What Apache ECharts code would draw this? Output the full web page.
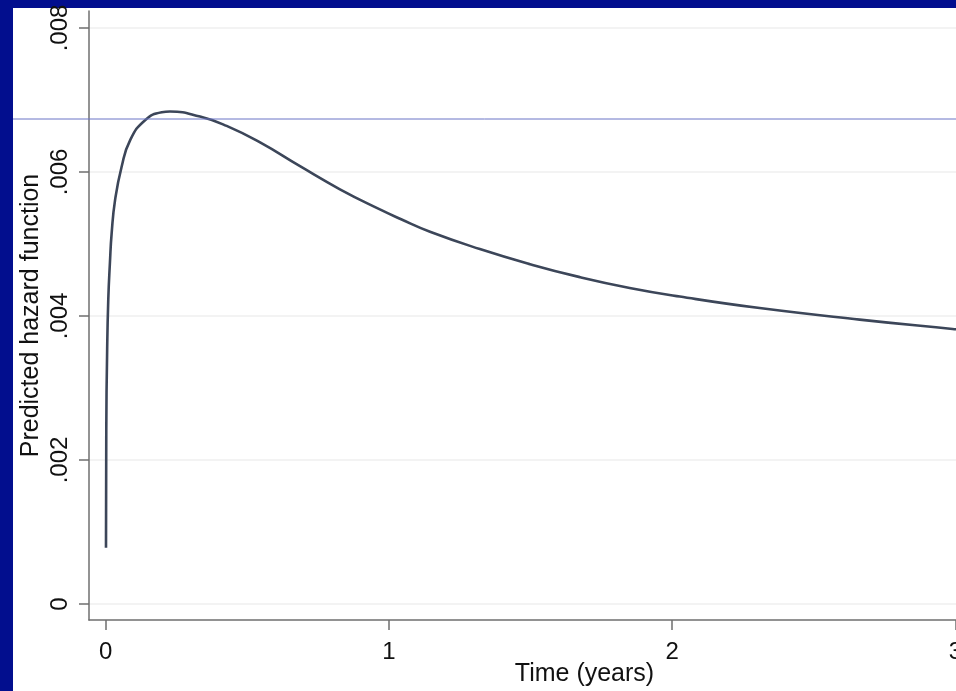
<!DOCTYPE html>
<html>
<head>
<meta charset="utf-8">
<script src="https://cdn.jsdelivr.net/npm/echarts@6/dist/echarts.min.js"></script>
<style>
html,body{margin:0;padding:0;background:#020e8e;}
#chart{width:956px;height:691px;}
</style>
</head>
<body>
<div id="chart"></div>
<script>
// Time (years)
const times = [0.001, 0.002, 0.005, 0.009, 0.015, 0.021, 0.033, 0.056, 0.086, 0.139, 0.198, 0.227, 0.333, 0.427, 0.545, 0.686, 0.827, 0.968, 1.039, 1.145, 1.321, 1.498, 1.674, 1.85, 2.027, 2.309, 2.662, 2.99, 3.02];
// Predicted hazard function
const hazard = [0.00078, 0.0024, 0.0035, 0.00422, 0.00475, 0.00515, 0.00561, 0.00607, 0.00644, 0.00672, 0.00683, 0.00684, 0.00677, 0.00664, 0.00641, 0.00608, 0.00576, 0.00548, 0.00535, 0.00517, 0.00493, 0.00472, 0.00454, 0.00439, 0.00427, 0.00411, 0.00395, 0.00382, 0.00381];
const xTicks = [0, 1, 2, 3];
const yTicks = [0, 0.002, 0.004, 0.006, 0.008];
const yTickLabels = ['0', '.002', '.004', '.006', '.008'];
const refLineValue = 0.006736;

const xName = 'Time (years)';
const yName = 'Predicted hazard function';

const FONT = '"Liberation Sans", Arial, Helvetica, sans-serif';
const axisColor = '#6f6f6f';
const yMin = -0.000222, yMax = 0.008236;

const chart = echarts.init(document.getElementById('chart'), null, {renderer: 'canvas'});
const option = {
  backgroundColor: '#020e8e',
  animation: false,
  graphic: [{
    type: 'rect', left: 13, top: 8, z: -10,
    shape: {width: 943, height: 683},
    style: {fill: '#ffffff'}
  }],
  grid: [
    {left: 89, top: 11, bottom: 71, right: -124, containLabel: false, outerBoundsMode: 'none'},
    {left: 13, top: 11, bottom: 71, right: 0, containLabel: false, outerBoundsMode: 'none'}
  ],
  xAxis: [{
    type: 'value', gridIndex: 0, min: -0.059, max: 3.44,
    name: xName, nameLocation: 'middle', nameGap: 42, nameMoveOverlap: false,
    nameTextStyle: {fontFamily: FONT, fontSize: 25, color: '#111'},
    axisLine: {show: true, onZero: false, lineStyle: {color: axisColor, width: 1.5}},
    axisTick: {show: true, length: 10, customValues: xTicks, lineStyle: {color: axisColor, width: 1.5}},
    axisLabel: {customValues: xTicks, margin: 20, fontFamily: FONT, fontSize: 24, color: '#111',
      formatter: v => String(v)},
    splitLine: {show: false}
  }, {
    type: 'value', gridIndex: 1, min: 0, max: 1, show: false
  }],
  yAxis: [{
    type: 'value', gridIndex: 0, min: yMin, max: yMax,
    name: yName, nameLocation: 'middle', nameGap: 45, nameRotate: 90, nameMoveOverlap: false,
    nameTextStyle: {fontFamily: FONT, fontSize: 25, color: '#111'},
    axisLine: {show: true, onZero: false, lineStyle: {color: axisColor, width: 1.5}},
    axisTick: {show: true, length: 10, customValues: yTicks, lineStyle: {color: axisColor, width: 1.5}},
    axisLabel: {customValues: yTicks, rotate: 90, margin: 17, fontFamily: FONT, fontSize: 24, color: '#111',
      formatter: v => { const i = yTicks.findIndex(t => Math.abs(t - v) < 1e-9); return i >= 0 ? yTickLabels[i] : ''; }},
    splitLine: {show: true, lineStyle: {color: '#efefef', width: 1.5}}
  }, {
    type: 'value', gridIndex: 1, min: yMin, max: yMax, show: false
  }],
  series: [{
    type: 'line', xAxisIndex: 0, yAxisIndex: 0,
    data: times.map((t, i) => [t, hazard[i]]),
    smooth: 0.5, showSymbol: false, symbol: 'none',
    lineStyle: {color: '#3c4659', width: 2.6},
    z: 3
  }, {
    type: 'line', xAxisIndex: 1, yAxisIndex: 1,
    data: [[0, refLineValue], [1, refLineValue]],
    showSymbol: false, symbol: 'none', silent: true,
    lineStyle: {color: '#6b75c6', width: 1},
    z: 4
  }]
};
chart.setOption(option);
</script>
</body>
</html>
